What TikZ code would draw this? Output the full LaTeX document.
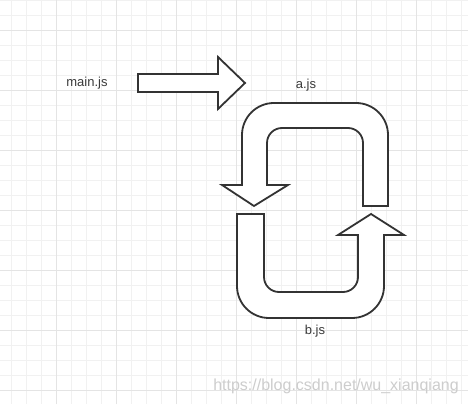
\documentclass[tikz,border=0pt]{standalone}
\usepackage{fontspec}
\setmainfont{Liberation Sans}
\usepackage{tikz}
\usetikzlibrary{positioning}
\definecolor{cLine}{HTML}{333333}
\definecolor{cText}{HTML}{3A3A3A}
\definecolor{cGridMin}{HTML}{F1F1F1}
\definecolor{cGridMaj}{HTML}{E4E4E4}
\definecolor{cMark}{HTML}{CDCDCD}
\tikzset{
  dg/gridmin/.style={draw=cGridMin, line width=0.9pt},
  dg/gridmaj/.style={draw=cGridMaj, line width=0.9pt},
  dg/blockarrow/.style={draw=cLine, line width=1.8pt, fill=white, line join=miter},
  dg/label/.style={font=\fontsize{13}{15}\selectfont, text=cText, inner sep=1pt},
  dg/mark/.style={font=\fontsize{16}{18}\selectfont, text=cMark, inner sep=1pt}
}

\begin{document}
\begin{tikzpicture}[x=1pt, y=1pt]
    \useasboundingbox (0,0) rectangle (468,404);
    \fill[white] (0,0) rectangle (468,404);

    % --- background grid ---
    \foreach \k in {0,...,30}
      \draw[dg/gridmin] (11.7+15*\k,0) -- (11.7+15*\k,404);
    \foreach \k in {0,...,26}
      \draw[dg/gridmin] (0,404-15*\k) -- (468,404-15*\k);
    \foreach \k in {0,...,6}
      \draw[dg/gridmaj] (56.7+60*\k,0) -- (56.7+60*\k,404);
    \foreach \k in {0,...,6}
      \draw[dg/gridmaj] (0,374-60*\k) -- (468,374-60*\k);

    % --- labels ---
    \node[dg/label] (mainjs) at (87,321) {main.js};
    \node[dg/label] (ajs) at (306,319) {a.js};
    \node[dg/label] (bjs) at (315,73) {b.js};

    % --- main.js -> a.js ---
    \draw[dg/blockarrow] (138,330) -- (218,330) -- (218,347) -- (245,321)
      -- (218,295) -- (218,312) -- (138,312) -- cycle;

    % --- upper loop (a.js down to b.js) ---
    \draw[dg/blockarrow] (388,198) -- (388,269)
      arc[start angle=0, end angle=90, radius=32] -- (274,301)
      arc[start angle=90, end angle=180, radius=32] -- (242,219)
      -- (222,219) -- (254,198) -- (288,219) -- (267,219) -- (267,261)
      arc[start angle=180, end angle=90, radius=15] -- (348,276)
      arc[start angle=90, end angle=0, radius=15] -- (363,198) -- cycle;

    % --- lower loop (b.js back up to a.js) ---
    \draw[dg/blockarrow] (237,190) -- (237,118)
      arc[start angle=180, end angle=270, radius=32] -- (352,86)
      arc[start angle=270, end angle=360, radius=32] -- (384,169)
      -- (404,169) -- (371,190) -- (338,169) -- (358,169) -- (358,127)
      arc[start angle=0, end angle=-90, radius=15] -- (279,112)
      arc[start angle=270, end angle=180, radius=15] -- (264,190) -- cycle;

    % --- watermark ---
    \node[dg/mark] (wm) at (336,18) {https://blog.csdn.net/wu\_xianqiang};
\end{tikzpicture}
\end{document}
